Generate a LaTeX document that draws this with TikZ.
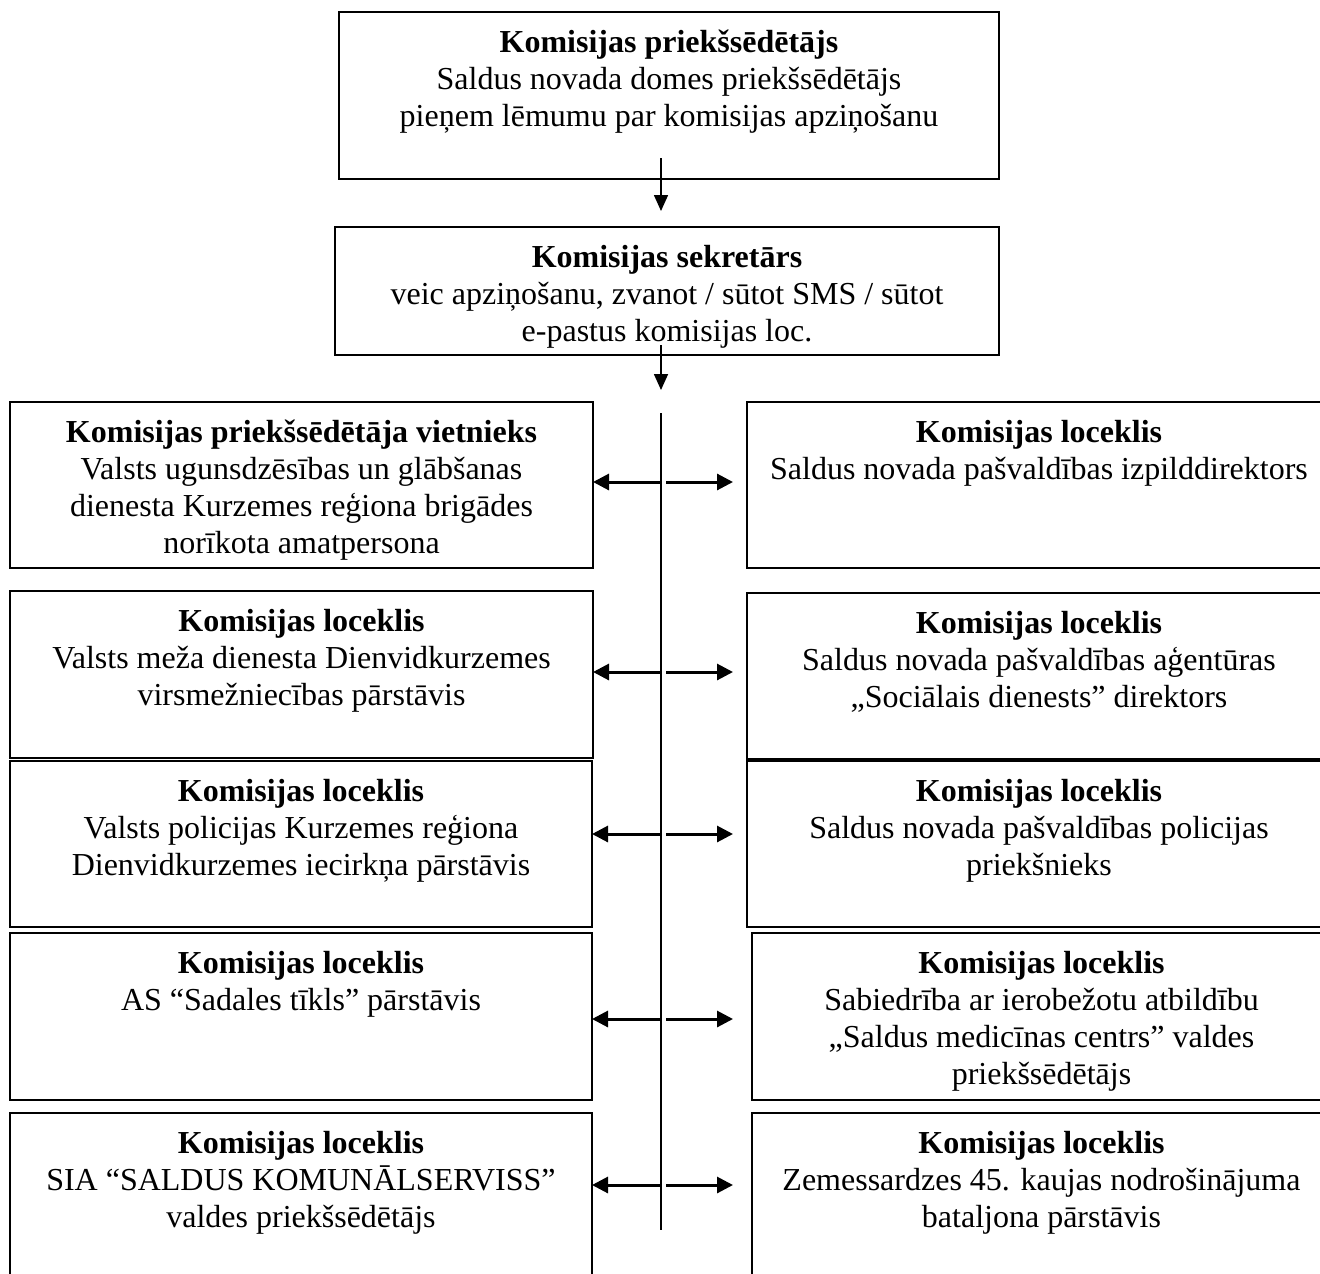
\documentclass[tikz,border=0pt]{standalone}
\usepackage{fontspec}
\setmainfont{Liberation Serif}
\usetikzlibrary{arrows.meta}
\tikzset{
  box/.style={draw, line width=1.8pt, rectangle, inner sep=0pt, outer sep=0pt, anchor=north west},
  txt/.style={inner sep=0pt, align=center, anchor=north, font=\fontsize{32pt}{37pt}\selectfont},
  arr/.style={line width=3pt, -{Triangle[length=16pt,width=16pt]}},
  arrtop/.style={line width=1.6pt, -{Triangle[length=16pt,width=14pt]}},
  trunk/.style={line width=2.2pt}
}
\newcommand{\mkbox}[6]{%
  \node[box, minimum width={(#4-#2)*1pt}, minimum height={(#5-#3)*1pt}] (#1) at (#2,#3) {};
  \node[txt] (#1-t) at ([yshift=-12pt]#1.north) {\rule{0pt}{28pt}#6};
}
\begin{document}
\begin{tikzpicture}[x=1pt,y=-1pt]
\useasboundingbox[fill=white] (0,0) rectangle (1320,1274);
\mkbox{top}{339}{12}{999}{179}{\textbf{Komisijas priekšsēdētājs}\\Saldus novada domes priekšsēdētājs\\pieņem lēmumu par komisijas apziņošanu}
\mkbox{sec}{335}{227}{999}{355}{\textbf{Komisijas sekretārs}\\veic apziņošanu, zvanot / sūtot SMS / sūtot\\e-pastus komisijas loc.}
\mkbox{L1}{10}{402}{593}{568}{\textbf{Komisijas priekšsēdētāja vietnieks}\\Valsts ugunsdzēsības un glābšanas\\dienesta Kurzemes reģiona brigādes\\norīkota amatpersona}
\mkbox{R1}{747}{402}{1331}{568}{\textbf{Komisijas loceklis}\\Saldus novada pašvaldības izpilddirektors}
\mkbox{L2}{10}{591}{593}{758}{\textbf{Komisijas loceklis}\\Valsts meža dienesta Dienvidkurzemes\\virsmežniecības pārstāvis}
\mkbox{R2}{747}{593}{1331}{759}{\textbf{Komisijas loceklis}\\Saldus novada pašvaldības aģentūras\\„Sociālais dienests” direktors}
\mkbox{L3}{10}{761}{592}{927}{\textbf{Komisijas loceklis}\\Valsts policijas Kurzemes reģiona\\Dienvidkurzemes iecirkņa pārstāvis}
\mkbox{R3}{747}{761}{1331}{927}{\textbf{Komisijas loceklis}\\Saldus novada pašvaldības policijas\\priekšnieks}
\mkbox{L4}{10}{933}{592}{1100}{\textbf{Komisijas loceklis}\\AS “Sadales tīkls” pārstāvis}
\mkbox{R4}{752}{933}{1331}{1100}{\textbf{Komisijas loceklis}\\Sabiedrība ar ierobežotu atbildību\\„Saldus medicīnas centrs” valdes\\priekšsēdētājs}
\mkbox{L5}{10}{1113}{592}{1300}{\textbf{Komisijas loceklis}\\SIA “SALDUS KOMUNĀLSERVISS”\\valdes priekšsēdētājs}
\mkbox{R5}{752}{1113}{1331}{1300}{\textbf{Komisijas loceklis}\\Zemessardzes 45. kaujas nodrošinājuma\\bataljona pārstāvis}
% trunk
\coordinate (ts) at (661,413);
\coordinate (te) at (661,1230);
\draw[trunk] (ts) -- (te);
% top arrows
\draw[arrtop] ([yshift=21pt]top.south -| ts) -- ([yshift=16pt]sec.north -| ts);
\draw[arrtop] ([yshift=10pt]sec.south -| ts) -- ([yshift=12pt]L1.north -| ts);
% branch coordinates
\coordinate (t1) at (661,482);
\coordinate (t2) at (661,672);
\coordinate (t3) at (661,834);
\coordinate (t4) at (661,1019);
\coordinate (t5) at (661,1185);
\foreach \i/\g in {1/14,2/14,3/14,4/19,5/19}{
  \draw[arr] (t\i) -- (t\i -| L\i.east);
  \draw[arr] ([xshift=5pt]t\i) -- ([xshift=-\g pt]t\i -| R\i.west);
}
\end{tikzpicture}
\end{document}
